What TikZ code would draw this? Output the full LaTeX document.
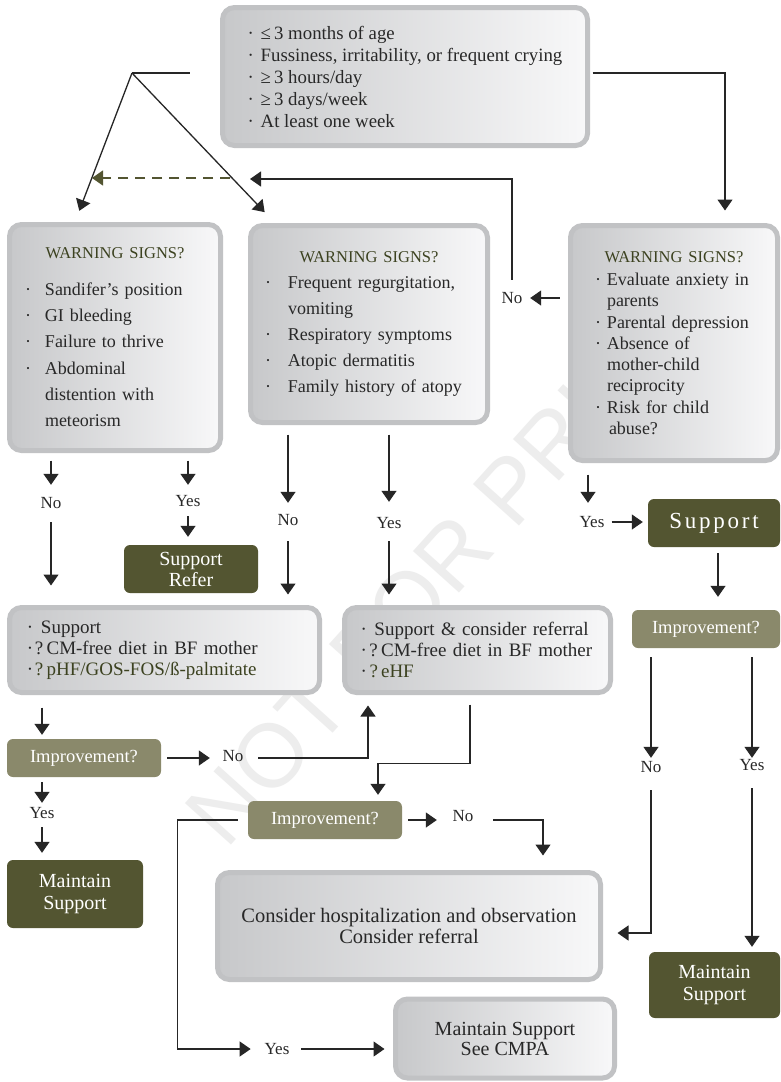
\documentclass[tikz,border=0pt]{standalone}
\usepackage{fontspec}
\setmainfont{Liberation Serif}
\newfontfamily\wmfont{Liberation Sans}
\usetikzlibrary{arrows.meta}

\definecolor{olivedark}{RGB}{83,85,49}
\definecolor{olivelight}{RGB}{138,137,107}
\definecolor{olivetext}{RGB}{60,66,32}
\definecolor{txt}{RGB}{40,40,40}
\definecolor{boxrim}{RGB}{193,194,196}
\definecolor{boxl}{RGB}{199,200,202}
\definecolor{boxr}{RGB}{248,248,249}

\newcommand{\bul}[1][14pt]{\makebox[#1][l]{·}}
\newcommand{\warnhead}{\makebox[\linewidth][c]{\fontsize{16.5}{20}\selectfont\color{olivetext}WARNING SIGNS?}}

\begin{document}
\begin{tikzpicture}[x=1pt, y=-1pt,
    every node/.style={text=txt, font=\fontsize{18}{22}\selectfont},
    gbox/.style={draw=boxrim, line width=5pt, rounded corners=12pt, left color=boxl, right color=boxr, inner sep=0pt},
    dbox/.style={fill=olivedark, rounded corners=6pt, text=white, align=center, inner sep=0pt, font=\fontsize{20}{21}\selectfont},
    ibox/.style={fill=olivelight, rounded corners=6pt, text=white, inner sep=0pt, minimum width=154pt, minimum height=38pt, font=\fontsize{18.5}{20}\selectfont},
    lbl/.style={inner sep=0pt, text height=11pt, text depth=0pt, font=\fontsize{17}{20}\selectfont},
    arr/.style={draw=black!85, line width=1.3pt, -{Triangle[width=15pt,length=11pt]}},
    ln/.style={draw=black!85, line width=1.3pt}]
  \fill[white] (0,0) rectangle (781,1082);
  \useasboundingbox (0,0) rectangle (781,1082);

  % watermark
  \node[rotate=48, text=black!7, font=\wmfont\fontsize{90}{90}\selectfont] (wmark) at (438,570) {NOT FOR PRINT};

  % grey boxes
  \node[gbox, minimum width=365pt, minimum height=138pt, align=left, font=\fontsize{18.8}{22}\selectfont] (top) at (405,76.5)
    {\bul[13pt]≤\,3 months of age\\ \bul[13pt]Fussiness, irritability, or frequent crying\\ \bul[13pt]≥\,3 hours/day\\ \bul[13pt]≥\,3 days/week\\ \bul[13pt]At least one week};
  \node[gbox, minimum width=211pt, minimum height=226pt, text width=180pt, align=left, font=\fontsize{18}{26.3}\selectfont] (wl) at (115,337.5)
    {\warnhead\\[10pt] \bul[20pt]Sandifer's position\\ \bul[20pt]GI bleeding\\ \bul[20pt]Failure to thrive\\ \bul[20pt]Abdominal\\ \hspace*{20pt}distention with\\ \hspace*{20pt}meteorism};
  \node[gbox, minimum width=237pt, minimum height=197pt, text width=208pt, align=left, font=\fontsize{18}{26}\selectfont] (wm) at (369,324)
    {\warnhead\\ \bul[23pt]Frequent regurgitation,\\ \hspace*{23pt}vomiting\\ \bul[23pt]Respiratory symptoms\\ \bul[23pt]Atopic dermatitis\\ \bul[23pt]Family history of atopy};
  \node[gbox, minimum width=207pt, minimum height=235pt, text width=158pt, align=left, font=\fontsize{18}{21.3}\selectfont] (wr) at (674,343)
    {\warnhead\\[2pt] \bul[12pt]Evaluate anxiety in\\ \hspace*{12pt}parents\\ \bul[12pt]Parental depression\\ \bul[12pt]Absence of\\ \hspace*{12pt}mother-child\\ \hspace*{12pt}reciprocity\\ \bul[12pt]Risk for child\\ \hspace*{14pt}abuse?};
  \node[gbox, minimum width=310pt, minimum height=85pt, text width=275pt, align=left, font=\fontsize{19}{21}\selectfont] (supL) at (164.5,650)
    {\bul[14pt]Support\\ \bul[8pt]?\,CM-free diet in BF mother\\ \bul[8pt]\textcolor{olivetext}{?\,pHF/GOS-FOS/ß-palmitate}};
  \node[gbox, minimum width=266pt, minimum height=85pt, text width=234pt, align=left, font=\fontsize{19}{21}\selectfont] (supM) at (477.5,650)
    {\bul[14pt]Support \& consider referral\\ \bul[9pt]?\,CM-free diet in BF mother\\ \bul[9pt]\textcolor{olivetext}{?\,eHF}};
  \node[gbox, minimum width=383pt, minimum height=107pt, align=center, font=\fontsize{20.5}{20.5}\selectfont] (cons) at (409,926)
    {Consider hospitalization and observation\\ Consider referral};
  \node[gbox, minimum width=219pt, minimum height=79pt, align=center, font=\fontsize{20}{20}\selectfont] (cmpa) at (505,1038.5)
    {Maintain Support\\ See CMPA};

  % olive boxes
  \node[dbox, minimum width=134pt, minimum height=48pt] (refer) at (191,569) {Support\\ Refer};
  \node[dbox, minimum width=132pt, minimum height=48pt, font=\fontsize{23}{24}\selectfont\addfontfeature{LetterSpace=12}] (supR) at (714,523) {Support};
  \node[dbox, minimum width=136pt, minimum height=68pt, font=\fontsize{20}{22}\selectfont] (mainL) at (75,894) {Maintain\\ Support};
  \node[dbox, minimum width=131pt, minimum height=66pt, font=\fontsize{20}{22}\selectfont] (mainR) at (714.5,985) {Maintain\\ Support};
  \node[ibox] (impL) at (84,758) {Improvement?};
  \node[ibox] (impM) at (325,820) {Improvement?};
  \node[ibox, minimum width=148pt] (impR) at (706,629) {Improvement?};

  % yes / no
  \node[lbl] (noL) at (51,503) {No};
  \node[lbl] (yesL) at (188,501) {Yes};
  \node[lbl] (noM) at (288,520) {No};
  \node[lbl] (yesM) at (389,523) {Yes};
  \node[lbl] (yesR) at (592,522) {Yes};
  \node[lbl] (noWR) at (512,298) {No};
  \node[lbl] (noImpL) at (233,756) {No};
  \node[lbl] (yesImpL) at (42,813) {Yes};
  \node[lbl] (noImpM) at (463,816) {No};
  \node[lbl] (yesImpM) at (277,1049) {Yes};
  \node[lbl] (noImpR) at (651,767) {No};
  \node[lbl] (yesImpR) at (752,765) {Yes};

  \coordinate (fork) at (132,73);
  \coordinate (backTip) at (250,179);
  \coordinate (dashS) at (230,178);
  \coordinate (dashE) at (92,178);

  % top connectors
  \draw[ln, shorten <=30.5pt] (fork -| top.west) -- (fork);
  \draw[arr, shorten >=12pt] (fork) -- ([xshift=-40pt]wl.north);
  \draw[arr, shorten >=15pt] (fork) -- ([xshift=-94pt]wm.north);
  \draw[arr, shorten <=2.5pt, shorten >=12.5pt] (fork -| top.east) -| ([xshift=51pt]wr.north);
  \draw[arr, draw=olivedark, dash pattern=on 10pt off 7pt] (dashS) -- (dashE);
  \draw[arr, shorten <=8.5pt, shorten >=7.6pt] (wr.west |- noWR) -- (noWR.east);
  \draw[arr, shorten <=12.5pt] (noWR.north) |- (backTip);

  % left column
  \draw[arr, shorten <=7.5pt, shorten >=12.5pt] (noL |- wl.south) -- (noL.north);
  \draw[arr, shorten <=13.5pt, shorten >=19.5pt] (noL.south) -- (noL |- supL.north);
  \draw[arr, shorten <=7.5pt, shorten >=10.5pt] (yesL |- wl.south) -- (yesL.north);
  \draw[arr, shorten <=9.5pt, shorten >=8pt] (yesL.south) -- (yesL |- refer.north);
  \draw[arr, shorten <=12.5pt, shorten >=4pt] ([xshift=-42pt]impL.north |- supL.south) -- ([xshift=-42pt]impL.north);
  \draw[arr, shorten <=6pt, shorten >=12.6pt] (impL.east) -- (noImpL.west |- impL.east);
  \draw[arr, shorten <=14.6pt, shorten >=10.5pt] (noImpL.east |- impL.east) -| ([xshift=-109.5pt]supM.south);
  \draw[arr, shorten <=5pt, shorten >=4.5pt] (yesImpL |- impL.south) -- (yesImpL.north);
  \draw[arr, shorten <=8.5pt, shorten >=7pt] (yesImpL.south) -- (yesImpL |- mainL.north);

  % middle column
  \draw[arr, shorten <=9.5pt, shorten >=11.5pt] (noM |- wm.south) -- (noM.north);
  \draw[arr, shorten <=15.5pt, shorten >=10.5pt] (noM.south) -- (noM |- supL.north);
  \draw[arr, shorten <=9.5pt, shorten >=15.5pt] (yesM |- wm.south) -- (yesM.north);
  \draw[arr, shorten <=12.5pt, shorten >=10.5pt] (yesM.south) -- (yesM |- supM.north);
  \draw[arr, shorten <=9.5pt, shorten >=6pt] ([xshift=-7.5pt]supM.south) -- ++(0,68.5) -| ([xshift=53pt]impM.north);
  \draw[arr, shorten <=6pt, shorten >=15.6pt] (impM.east) -- (noImpM.west |- impM.east);
  \draw[arr, shorten <=19.6pt, shorten >=14.5pt] (noImpM.east |- impM.east) -| ([xshift=134pt]cons.north);
  \draw[arr, shorten <=10pt, shorten >=13.8pt] (impM.west) -- ++(-70,0) |- (yesImpM.west);
  \draw[arr, shorten <=11.8pt, shorten >=8.5pt] (yesImpM.east) -- (cmpa.west |- yesImpM.east);

  % right column
  \draw[arr, shorten <=11.5pt, shorten >=13.5pt] ([xshift=-4pt]yesR |- wr.south) -- ([xshift=-4pt]yesR.north);
  \draw[arr, shorten <=7pt, shorten >=5pt] (yesR.east) -- (supR.west |- yesR.east);
  \draw[arr, shorten <=6pt, shorten >=13pt] ([xshift=4pt]supR.south) -- ([xshift=4pt]supR.south |- impR.north);
  \draw[arr, shorten <=9pt, shorten >=3.5pt] (noImpR |- impR.south) -- (noImpR.north);
  \draw[arr, shorten <=17.5pt, shorten >=14.5pt] (noImpR.south) |- ([yshift=-7pt]cons.east);
  \draw[arr, shorten <=9pt, shorten >=1.5pt] (yesImpR |- impR.south) -- (yesImpR.north);
  \draw[arr, shorten <=17.5pt, shorten >=5pt] (yesImpR.south) -- (yesImpR |- mainR.north);
\end{tikzpicture}
\end{document}
